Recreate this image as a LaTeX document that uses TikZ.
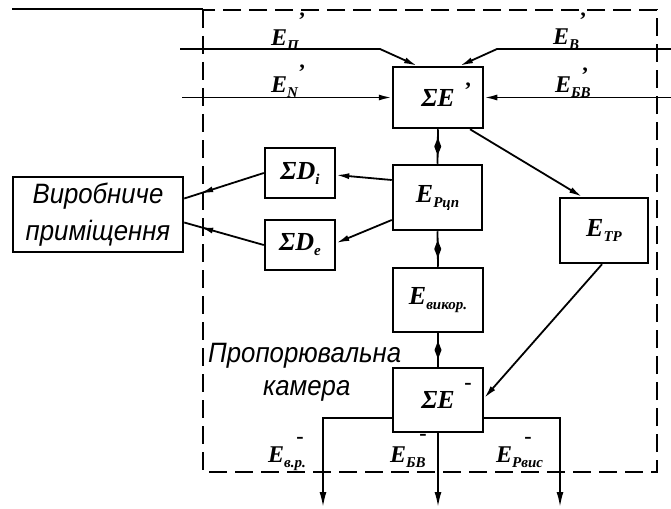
\documentclass[tikz,border=0pt]{standalone}
\usepackage{fontspec}
\setmainfont{Liberation Serif}
\newfontfamily\gost{Liberation Sans}[FakeStretch=0.92]
\usetikzlibrary{arrows.meta,decorations.markings,calc}
\newcommand{\lsub}[1]{\raisebox{-5pt}{\fontsize{15}{15}\selectfont #1}}
\begin{document}
\begin{tikzpicture}[x=1pt,y=-1pt,
 bx/.style={draw,line width=2.5pt,inner sep=0pt,font=\fontsize{26}{26}\selectfont\bfseries\itshape},
 lab/.style={inner sep=0pt,anchor=base west,font=\fontsize{24}{24}\selectfont\bfseries\itshape},
 prm/.style={inner sep=0pt,font=\fontsize{22}{22}\selectfont\bfseries},
 conn/.style={line width=1.8pt},
 tip/.style={-{Latex[length=13pt,width=6pt]}},
 otip/.style={-{Latex[length=15pt,width=7pt]}},
 dmark/.style={postaction={decorate,decoration={markings,mark=at position 0.5 with {\fill (-9pt,0pt) -- (0pt,3.5pt) -- (9pt,0pt) -- (0pt,-3.5pt) -- cycle;}}}},
 amark/.style={postaction={decorate,decoration={markings,mark=at position #1 with {\arrow{Latex[length=13pt,width=6pt]}}}}},
 gtext/.style={inner sep=0pt,font=\gost\itshape\fontsize{28}{37}\selectfont}
]
\useasboundingbox (0,0) rectangle (671,508);

% frame
\draw[line width=1.2pt] (12,9) -- (203,9);
\draw[line width=2pt, dash pattern=on 18pt off 8pt] (203,10) rectangle (657,472);

% boxes
\node[bx,minimum width=90pt,minimum height=61pt] (sEp) at (438,97.5) {ΣE};
\node[bx,minimum width=89pt,minimum height=65pt] (erc) at (437.5,197.5) {E\lsub{Рцп}};
\node[bx,minimum width=88pt,minimum height=65pt] (etr) at (604,230.5) {E\lsub{ТР}};
\node[bx,minimum width=70pt,minimum height=50pt] (sdi) at (300,173) {ΣD\lsub{i}};
\node[bx,minimum width=70pt,minimum height=50pt] (sde) at (300,245) {ΣD\lsub{e}};
\node[bx,minimum width=90pt,minimum height=64pt] (evk) at (438,300) {E\lsub{викор.}};
\node[bx,minimum width=90pt,minimum height=64pt] (sEm) at (438,400) {ΣE};
\node[draw,line width=2.5pt,minimum width=170pt,minimum height=75pt,gtext,align=center] (vyr) at (98,214.5) {Виробниче\\приміщення};

% primes in boxes
\node[prm] (pEp) at (468,90) {'};
\node[prm] (pEm) at (468,386) {-};

% text
\node[gtext,anchor=base west] (cam1) at (208,362) {Пропорювальна};
\node[gtext,anchor=base west] (cam2) at (263,395) {камера};

% input labels
\node[lab] (lEp) at (271,46) {E\lsub{П}};
\node[prm] (plEp) at (302,20) {'};
\node[lab] (lEv) at (553,45) {E\lsub{В}};
\node[prm] (plEv) at (583,20) {'};
\node[lab] (lEn) at (271,93) {E\lsub{N}};
\node[prm] (plEn) at (302,72) {'};
\node[lab] (lEb) at (555,93) {E\lsub{БВ}};
\node[prm] (plEb) at (585,75) {'};

% output labels
\node[lab] (oEvr) at (268,462) {E\lsub{в.р.}};
\node[prm] (poEvr) at (300,440) {-};
\node[lab] (oEbv) at (390,462) {E\lsub{БВ}};
\node[prm] (poEbv) at (423,437) {-};
\node[lab] (oErv) at (496,462) {E\lsub{Рвис}};
\node[prm] (poErv) at (528,440) {-};

% input connectors
\coordinate (inP) at (180,49);
\coordinate (kP) at (380,49);
\coordinate (inV) at (671,49);
\coordinate (kV) at (497,49);
\coordinate (inN) at (182,97.5);
\coordinate (inB) at (671,97.5);
\draw[conn,tip] (inP) -- (kP) -- ($(sEp.north)+(-21,0)$);
\draw[conn,tip] (inV) -- (kV) -- ($(sEp.north)+(22,0)$);
\draw[conn,tip] (inN) -- (sEp.west);
\draw[conn,tip] (inB) -- (sEp.east);

% internal connectors
\draw[conn,dmark] (sEp.south) -- (erc.north);
\draw[conn,dmark] (erc.south) -- (evk.north);
\draw[conn,dmark] (evk.south) -- (sEm.north);
\draw[conn,tip] ($(sEp.south)+(32,0)$) -- ($(etr.north)+(-22,0)$);
\draw[conn,tip] ($(etr.south)+(-2,0)$) -- ($(sEm.east)+(0,-2)$);
\draw[conn,tip] ($(erc.west)+(0,-17.5)$) -- ($(sdi.east)+(0,2)$);
\draw[conn,tip] ($(erc.west)+(0,22.5)$) -- ($(sde.east)+(0,-2)$);
\draw[conn,amark=0.8] (sdi.west) -- ($(vyr.east)+(0,-16)$);
\draw[conn,amark=0.8] (sde.west) -- ($(vyr.east)+(0,8)$);

% outputs
\coordinate (oL) at (323,507);
\coordinate (oM) at (438,507);
\coordinate (oR) at (560,507);
\draw[conn,otip] ($(sEm.west)+(0,18)$) -| (oL);
\draw[conn,otip] (sEm.south) -- (oM);
\draw[conn,otip] ($(sEm.east)+(0,18)$) -| (oR);
\end{tikzpicture}
\end{document}
